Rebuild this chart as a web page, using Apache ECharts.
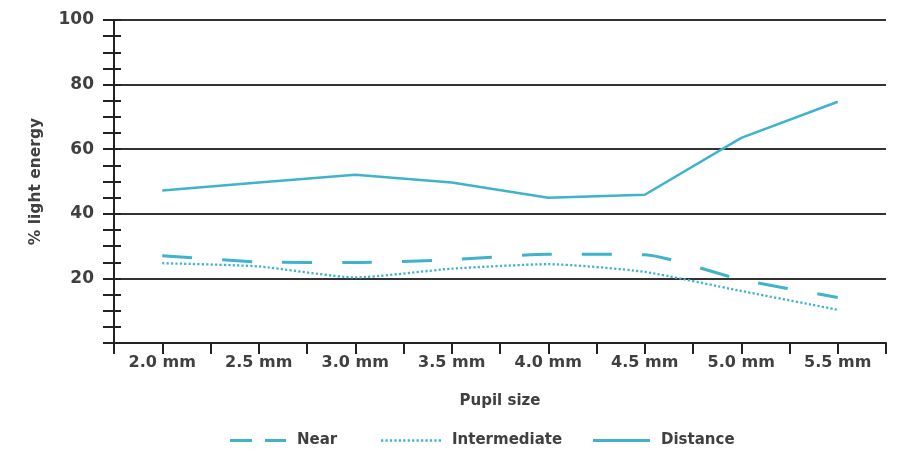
<!DOCTYPE html>
<html>
<head>
<meta charset="utf-8">
<script src="https://cdn.jsdelivr.net/npm/echarts@6/dist/echarts.min.js"></script>
<style>
html,body{margin:0;padding:0;background:#fff;}
#chart{width:905px;height:449px;}
</style>
</head>
<body>
<div id="chart"></div>
<script>
const pupilSizes = [2.0, 2.5, 3.0, 3.5, 4.0, 4.5, 5.0, 5.5];
const nearValues = [27.0, 25.1, 24.9, 25.8, 27.5, 27.3, 19.6, 14.1];
const intermediateValues = [24.7, 23.7, 20.3, 23.0, 24.4, 22.0, 16.1, 10.3];
const distanceValues = [47.2, 49.7, 52.1, 49.7, 45.0, 45.9, 63.5, 74.7];
const seriesNames = ['Near', 'Intermediate', 'Distance'];
const xAxisTitle = 'Pupil size';
const yAxisTitle = '% light energy';

const teal = '#3fb3cc';
const textColor = '#404040';
const font = 'DejaVu Sans';

function pairs(vals) { return pupilSizes.map((x, i) => [x, vals[i]]); }

// legend icon shapes (styling only)
const dashIcon = 'path://M0,0h22v3h-22z M35,0h21v3h-21z';
let dotPath = 'path://';
for (let i = 0; i < 14; i++) { const x = i * 4.3; dotPath += 'M' + x.toFixed(1) + ',0.5h2.2v2.2h-2.2z '; }
const solidIcon = 'path://M0,0h57v3h-57z';

const legendText = {fontFamily: font, fontWeight: 'bold', fontSize: 15, color: textColor, padding: [0, 0, 0, 6]};
function legendAt(left, name, icon, w) {
  return {left: left, top: 428, itemWidth: w, itemHeight: 3, icon: icon,
          textStyle: legendText, data: [{name: name, icon: icon}]};
}

const chart = echarts.init(document.getElementById('chart'), null, {renderer: 'canvas'});
chart.setOption({
  animation: false,
  backgroundColor: '#ffffff',
  grid: {left: 114, right: 19, top: 20, bottom: 106, containLabel: false},
  xAxis: {
    type: 'value', min: 1.75, max: 5.75, interval: 0.25,
    name: xAxisTitle, nameLocation: 'middle', nameGap: 51,
    nameTextStyle: {fontFamily: font, fontWeight: 'bold', fontSize: 15, color: textColor, verticalAlign: 'top'},
    axisLine: {show: true, lineStyle: {color: '#222', width: 2}},
    axisTick: {show: true, length: 11, lineStyle: {color: '#222', width: 2}},
    splitLine: {show: false},
    axisLabel: {
      margin: 12, fontFamily: font, fontWeight: 'bold', fontSize: 16, color: textColor,
      formatter: v => (Math.abs(v * 2 - Math.round(v * 2)) < 1e-6) ? v.toFixed(1) + ' mm' : ''
    }
  },
  yAxis: [{
    type: 'value', min: 0, max: 100, interval: 20, position: 'left',
    name: yAxisTitle, nameLocation: 'middle', nameGap: 70, nameRotate: 90,
    nameTextStyle: {fontFamily: font, fontWeight: 'bold', fontSize: 15.5, color: textColor},
    axisLine: {show: true, lineStyle: {color: '#222', width: 2}},
    axisTick: {show: true, length: 11, lineStyle: {color: '#222', width: 2}},
    minorTick: {show: true, splitNumber: 4, length: 11, lineStyle: {color: '#222', width: 2}},
    splitLine: {show: true, lineStyle: {color: '#333', width: 2}},
    axisLabel: {
      margin: 20, fontFamily: font, fontWeight: 'bold', fontSize: 17, color: textColor,
      formatter: v => v === 0 ? '' : String(v)
    }
  }, {
    type: 'value', min: 0, max: 100, interval: 20, position: 'left', offset: 0,
    axisLine: {show: false},
    axisTick: {show: true, inside: true, length: 7, lineStyle: {color: '#222', width: 2}},
    minorTick: {show: true, splitNumber: 4, length: 7, lineStyle: {color: '#222', width: 2}},
    splitLine: {show: false},
    axisLabel: {show: false}
  }],
  legend: [
    legendAt(225, seriesNames[0], dashIcon, 56),
    legendAt(376, seriesNames[1], dotPath, 60),
    legendAt(588, seriesNames[2], solidIcon, 57)
  ],
  series: [
    {name: seriesNames[0], type: 'line', data: pairs(nearValues), symbol: 'none', smooth: 0.2,
     lineStyle: {color: teal, width: 3, type: [30, 30]}, itemStyle: {color: teal}},
    {name: seriesNames[1], type: 'line', data: pairs(intermediateValues), symbol: 'none', smooth: 0.2,
     lineStyle: {color: teal, width: 2.3, type: [2.2, 2.2]}, itemStyle: {color: teal}},
    {name: seriesNames[2], type: 'line', data: pairs(distanceValues), symbol: 'none',
     lineStyle: {color: teal, width: 2.5, type: 'solid'}, itemStyle: {color: teal}}
  ]
});
</script>
</body>
</html>
